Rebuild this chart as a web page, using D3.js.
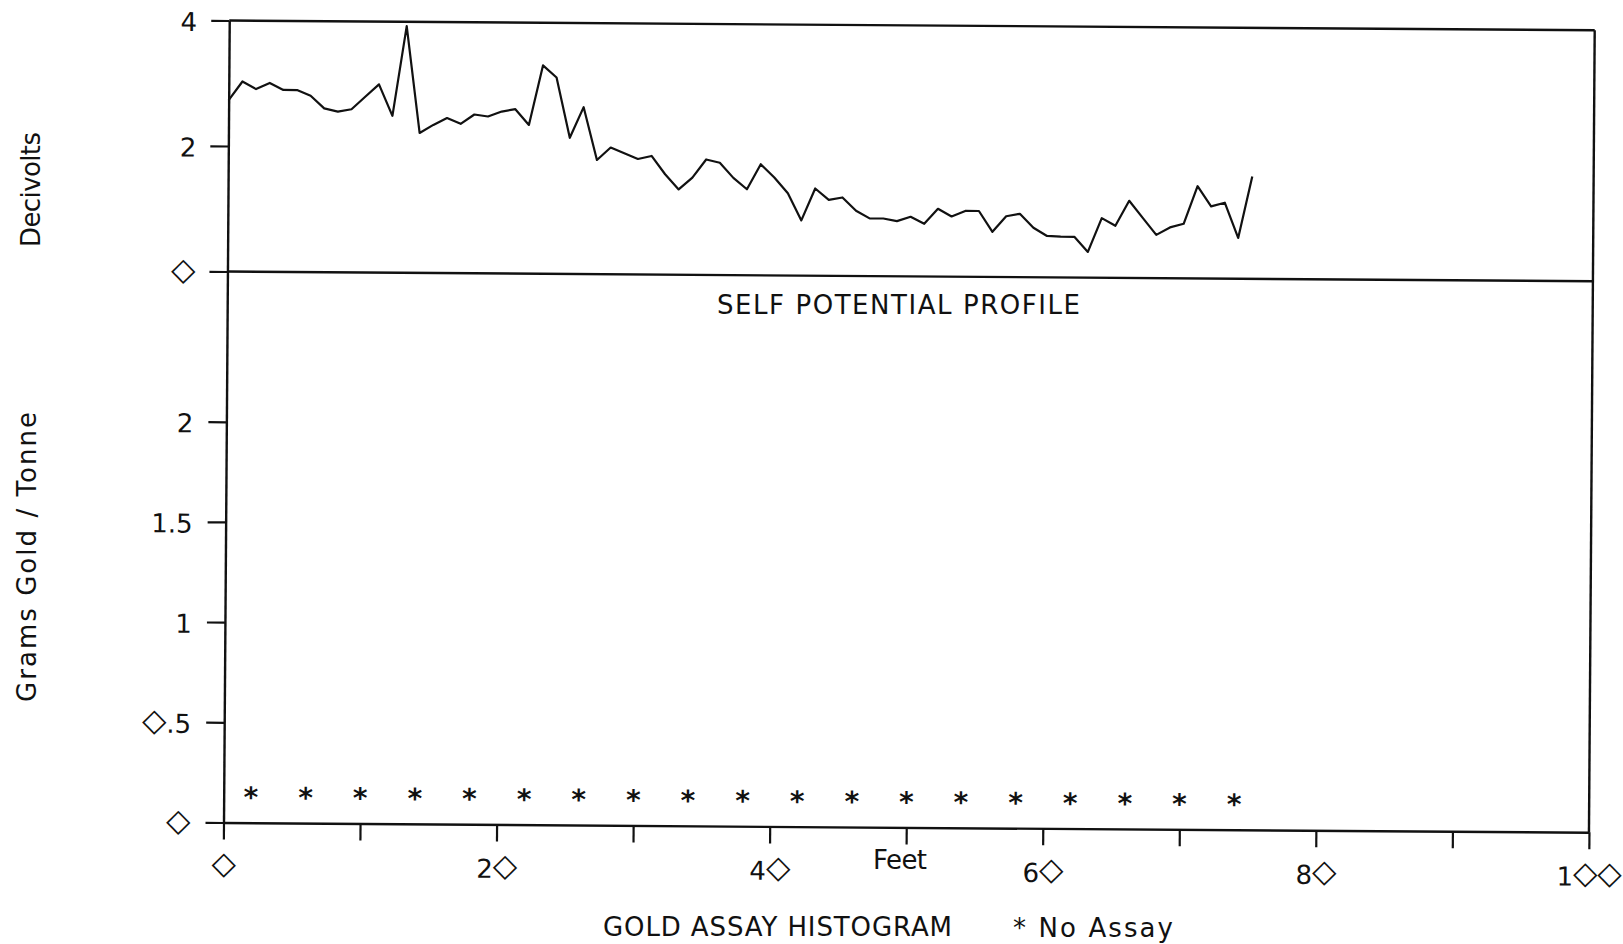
<!DOCTYPE html>
<html>
<head>
<meta charset="utf-8">
<script src="https://cdn.jsdelivr.net/npm/d3@7"></script>
<style>
  html, body { margin: 0; padding: 0; background: #fff; }
  svg { display: block; }
  text { font-family: "DejaVu Sans", sans-serif; fill: #111; }
</style>
</head>
<body>
<svg id="chart" width="1623" height="944"></svg>
<script>
// Self potential survey: reading every foot along the line (decivolts)
const spFeet = [0, 1, 2, 3, 4, 5, 6, 7, 8, 9,
  10, 11, 12, 13, 14, 15, 16, 17, 18, 19,
  20, 21, 22, 23, 24, 25, 26, 27, 28, 29,
  30, 31, 32, 33, 34, 35, 36, 37, 38, 39,
  40, 41, 42, 43, 44, 45, 46, 47, 48, 49,
  50, 51, 52, 53, 54, 55, 56, 57, 58, 59,
  60, 61, 62, 63, 64, 65, 66, 67, 68, 69,
  70, 71, 72, 73, 74, 75];
const spDecivolts = [2.73, 3.03, 2.91, 3.01, 2.90, 2.90, 2.81, 2.61, 2.56, 2.60,
  2.80, 3.00, 2.50, 3.93, 2.23, 2.36, 2.47, 2.38, 2.53, 2.50,
  2.58, 2.62, 2.37, 3.32, 3.13, 2.17, 2.66, 1.82, 2.02, 1.93,
  1.84, 1.89, 1.60, 1.36, 1.55, 1.84, 1.79, 1.55, 1.37, 1.77,
  1.56, 1.31, 0.88, 1.39, 1.21, 1.25, 1.04, 0.92, 0.92, 0.88,
  0.95, 0.84, 1.08, 0.96, 1.05, 1.05, 0.72, 0.97, 1.01, 0.79,
  0.66, 0.65, 0.65, 0.41, 0.95, 0.83, 1.23, 0.96, 0.69, 0.81,
  0.87, 1.47, 1.15, 1.21, 0.65, 1.63];

// Gold assay samples (grams / tonne); null = sample not assayed
const sampleFeet = [2, 6, 10, 14, 18, 22, 26, 30, 34, 38,
  42, 46, 50, 54, 58, 62, 66, 70, 74];
const goldAssay = [null, null, null, null, null, null, null, null, null, null,
  null, null, null, null, null, null, null, null, null];
const noAssayMarkLevel = 0.145;

// Axis ticks
const feetTicks = [0, 10, 20, 30, 40, 50, 60, 70, 80, 90, 100];
const feetTickLabels = [0, 20, 40, 60, 80, 100];
const spTicks = [0, 2, 4];
const goldTicks = [0, 0.5, 1, 1.5, 2];

// Layout
const W = 1623, H = 944;
const plotLeft = 223.5, plotRight = 1589;
const spTop = 20.5, spBase = 271.5, goldBase = 822.5;
const tilt = 0.41; // the plotter sheet sits slightly skewed

const x = d3.scaleLinear().domain([0, 100]).range([plotLeft, plotRight]);
const ySP = d3.scaleLinear().domain([0, 4]).range([spBase, spTop]);
const yGold = d3.scaleLinear().domain([0, 2.75]).range([goldBase, spBase]);

// Zero is printed with the old plotter's diamond glyph
const DIAMOND = "\u25C7";
const plotterDigits = v => String(v).replace(/0/g, DIAMOND);

const svg = d3.select("#chart");
svg.append("rect").attr("width", W).attr("height", H).attr("fill", "#fff");

const g = svg.append("g")
  .attr("transform", `rotate(${tilt} ${plotLeft} ${goldBase})`);

const ink = "#111";
const axisWidth = 2.4;
const tickFont = 26;

function styleAxis(sel) {
  sel.selectAll("path.domain").attr("stroke", ink).attr("stroke-width", axisWidth);
  sel.selectAll(".tick line").attr("stroke", ink).attr("stroke-width", 2.2);
  sel.selectAll(".tick text")
    .attr("fill", ink)
    .style("font-family", '"DejaVu Sans", sans-serif')
    .style("font-size", tickFont + "px");
  sel.attr("font-family", null).attr("font-size", null);
}

// Set the diamond zeros a touch larger and higher so they match the digits
function plotterGlyphs(sel, baseDyEm) {
  sel.selectAll(".tick text").each(function () {
    const t = d3.select(this);
    const s = t.text();
    t.text(null).attr("dy", null);
    let lift = 0;
    let first = true;
    for (const ch of s) {
      const span = t.append("tspan").text(ch);
      const want = ch === DIAMOND ? -2 : 0;
      const shift = (first ? baseDyEm * tickFont : 0) + (want - lift);
      if (shift !== 0) span.attr("dy", shift);
      lift = want;
      first = false;
      if (ch === DIAMOND) span.style("font-size", "1.22em");
    }
  });
}

// Upper panel: self potential axis
const spAxis = g.append("g")
  .attr("transform", `translate(${plotLeft},0)`)
  .call(d3.axisLeft(ySP).tickValues(spTicks).tickSize(18).tickSizeOuter(0)
    .tickPadding(14).tickFormat(plotterDigits));
styleAxis(spAxis);
plotterGlyphs(spAxis, 0.4);

// Lower panel: gold grade axis
const goldAxis = g.append("g")
  .attr("transform", `translate(${plotLeft},0)`)
  .call(d3.axisLeft(yGold).tickValues(goldTicks).tickSize(18).tickSizeOuter(0)
    .tickPadding(15).tickFormat(plotterDigits));
styleAxis(goldAxis);
plotterGlyphs(goldAxis, 0.4);

// Distance axis along the bottom
const feetAxis = g.append("g")
  .attr("transform", `translate(0,${goldBase})`)
  .call(d3.axisBottom(x).tickValues(feetTicks).tickSize(17).tickSizeOuter(0)
    .tickPadding(18)
    .tickFormat(d => feetTickLabels.includes(d) ? plotterDigits(d) : ""));
styleAxis(feetAxis);
plotterGlyphs(feetAxis, 0.71);

// Frame lines of the self potential panel and the right edge
const frame = g.append("g").attr("stroke", ink).attr("stroke-width", axisWidth);
frame.append("line")
  .attr("x1", x(0)).attr("x2", x(100))
  .attr("y1", ySP(4)).attr("y2", ySP(4));
frame.append("line")
  .attr("x1", x(0)).attr("x2", x(100))
  .attr("y1", ySP(0)).attr("y2", ySP(0));
frame.append("line")
  .attr("x1", x(100)).attr("x2", x(100))
  .attr("y1", ySP(4)).attr("y2", yGold(0));

// Self potential profile
const spPoints = spFeet.map((f, i) => [f, spDecivolts[i]]);
g.append("path")
  .datum(spPoints)
  .attr("fill", "none")
  .attr("stroke", ink)
  .attr("stroke-width", 2.2)
  .attr("stroke-linejoin", "round")
  .attr("d", d3.line().x(d => x(d[0])).y(d => ySP(d[1])));

// Gold assay histogram: a bar per assayed interval, an asterisk where none
const samples = sampleFeet.map((f, i) => ({ feet: f, grade: goldAssay[i] }));
const barHalf = 2;
g.append("g").selectAll("rect")
  .data(samples.filter(d => d.grade !== null))
  .join("rect")
  .attr("x", d => x(d.feet - barHalf))
  .attr("width", d => x(d.feet + barHalf) - x(d.feet - barHalf))
  .attr("y", d => yGold(d.grade))
  .attr("height", d => yGold(0) - yGold(d.grade))
  .attr("fill", "none").attr("stroke", ink).attr("stroke-width", 2);

const starSize = 28;
g.append("g").selectAll("text")
  .data(samples.filter(d => d.grade === null))
  .join("text")
  .attr("x", d => x(d.feet))
  .attr("y", d => yGold(noAssayMarkLevel) + starSize * 0.48)
  .attr("text-anchor", "middle")
  .style("font-size", starSize + "px")
  .style("font-weight", "bold")
  .text("*");

// Titles and axis names
const label = (txt, px, py, opts = {}) => {
  const t = svg.append("text")
    .attr("text-anchor", opts.anchor || "middle")
    .style("font-size", (opts.size || 26) + "px")
    .text(txt);
  if (opts.rotate) {
    t.attr("transform", `translate(${px},${py}) rotate(-90)`);
  } else {
    t.attr("x", px).attr("y", py);
  }
  if (opts.length) t.attr("textLength", opts.length).attr("lengthAdjust", "spacing");
  return t;
};

label("SELF POTENTIAL PROFILE", 898.5, 313.5, { length: 363 });
label("Feet", 900, 868.5, { length: 54 });
label("GOLD ASSAY HISTOGRAM", 777.5, 935.5, { length: 349 });
label("* No Assay", 1013, 936.5, { anchor: "start", length: 160 });
label("Decivolts", 40, 189.5, { rotate: true, length: 115 });
label("Grams Gold / Tonne", 36, 557, { rotate: true, length: 290 });
</script>
</body>
</html>
